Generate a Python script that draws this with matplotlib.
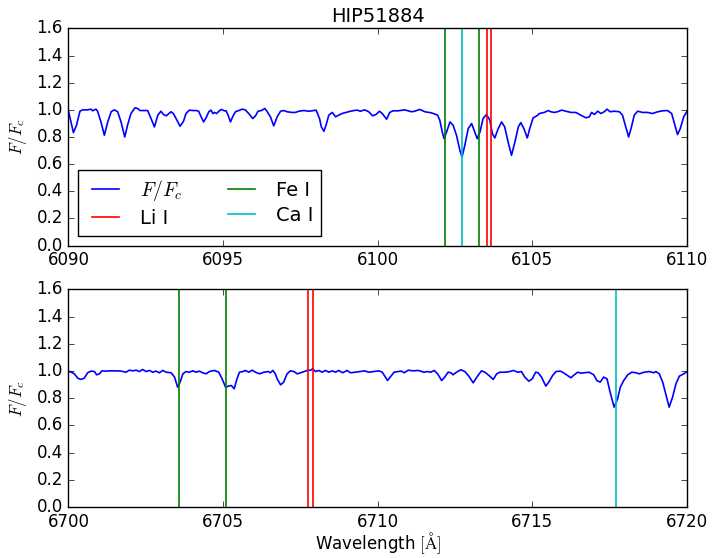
import numpy as np
import matplotlib
matplotlib.use('Agg')
import matplotlib.pyplot as plt

plt.style.use('classic')

# spectrum around 6100 A
wave_top = [6090.00, 6090.03, 6090.16, 6090.26, 6090.37, 6090.46, 6090.62, 6090.73, 6090.78, 6090.89,
            6090.94, 6091.05, 6091.16, 6091.27, 6091.38, 6091.48, 6091.59, 6091.70, 6091.82, 6091.91,
            6092.02, 6092.15, 6092.24, 6092.31, 6092.45, 6092.56, 6092.67, 6092.78, 6092.89, 6092.99,
            6093.07, 6093.16, 6093.24, 6093.32, 6093.39, 6093.48, 6093.61, 6093.72, 6093.80, 6093.91,
            6094.02, 6094.13, 6094.21, 6094.29, 6094.37, 6094.45, 6094.54, 6094.61, 6094.67, 6094.72,
            6094.79, 6094.88, 6094.94, 6095.04, 6095.10, 6095.16, 6095.24, 6095.31, 6095.40, 6095.51,
            6095.62, 6095.72, 6095.83, 6095.96, 6096.05, 6096.13, 6096.24, 6096.35, 6096.42, 6096.53,
            6096.64, 6096.75, 6096.86, 6096.96, 6097.07, 6097.23, 6097.34, 6097.45, 6097.61, 6097.77,
            6097.88, 6098.01, 6098.12, 6098.18, 6098.26, 6098.33, 6098.42, 6098.53, 6098.64, 6098.74,
            6098.85, 6098.98, 6099.12, 6099.23, 6099.34, 6099.44, 6099.58, 6099.71, 6099.84, 6099.95,
            6100.06, 6100.15, 6100.29, 6100.39, 6100.50, 6100.66, 6100.88, 6101.09, 6101.20, 6101.36,
            6101.53, 6101.74, 6101.94, 6102.01, 6102.09, 6102.15, 6102.23, 6102.34, 6102.44, 6102.55,
            6102.66, 6102.73, 6102.82, 6102.93, 6103.04, 6103.14, 6103.22, 6103.31, 6103.41, 6103.52,
            6103.63, 6103.71, 6103.79, 6103.90, 6104.01, 6104.11, 6104.22, 6104.33, 6104.44, 6104.55,
            6104.63, 6104.73, 6104.84, 6104.92, 6105.03, 6105.15, 6105.23, 6105.39, 6105.52, 6105.60,
            6105.71, 6105.82, 6105.95, 6106.09, 6106.25, 6106.41, 6106.57, 6106.74, 6106.85, 6106.92,
            6107.01, 6107.12, 6107.22, 6107.33, 6107.42, 6107.52, 6107.65, 6107.82, 6107.92, 6108.01,
            6108.12, 6108.21, 6108.30, 6108.41, 6108.57, 6108.73, 6108.89, 6109.06, 6109.22, 6109.38,
            6109.51, 6109.60, 6109.70, 6109.79, 6109.90, 6110.01]
flux_top = [0.990, 0.961, 0.832, 0.887, 0.990, 1.000, 1.000, 1.005, 0.993, 1.005,
            0.990, 0.911, 0.813, 0.911, 0.986, 1.000, 0.986, 0.911, 0.800, 0.887,
            0.973, 1.015, 1.010, 0.995, 0.995, 0.995, 0.936, 0.874, 0.961, 0.990,
            0.966, 0.956, 0.971, 0.986, 0.973, 0.936, 0.879, 0.916, 0.973, 0.998,
            0.995, 0.995, 0.990, 0.949, 0.911, 0.941, 0.986, 0.998, 0.973, 0.981,
            0.973, 0.993, 1.003, 0.993, 0.993, 0.961, 0.911, 0.949, 0.986, 0.995,
            1.005, 1.000, 0.973, 0.936, 0.956, 0.990, 0.995, 1.010, 0.990, 0.949,
            0.882, 0.949, 0.990, 0.995, 0.986, 0.981, 0.981, 0.990, 0.995, 0.990,
            0.993, 0.998, 0.936, 0.874, 0.842, 0.887, 0.961, 0.981, 0.949, 0.961,
            0.973, 0.981, 0.990, 0.995, 0.998, 0.990, 1.000, 0.986, 0.956, 0.966,
            0.990, 0.973, 0.931, 0.981, 0.993, 0.993, 1.000, 0.986, 0.990, 1.003,
            0.986, 0.978, 0.961, 0.924, 0.837, 0.788, 0.837, 0.911, 0.887, 0.813,
            0.702, 0.652, 0.739, 0.862, 0.899, 0.837, 0.788, 0.837, 0.936, 0.966,
            0.924, 0.825, 0.793, 0.862, 0.911, 0.874, 0.763, 0.665, 0.763, 0.874,
            0.906, 0.862, 0.793, 0.862, 0.941, 0.956, 0.973, 0.981, 0.995, 0.986,
            0.981, 0.986, 0.998, 0.990, 0.981, 0.981, 0.961, 0.941, 0.949, 0.981,
            0.966, 0.990, 0.973, 0.986, 1.005, 0.986, 0.990, 0.986, 0.961, 0.887,
            0.800, 0.874, 0.961, 0.990, 0.981, 0.981, 0.973, 0.986, 0.993, 0.995,
            0.973, 0.899, 0.818, 0.862, 0.949, 0.990]

# spectrum around 6708 A
wave_bot = [6700.00, 6700.05, 6700.19, 6700.30, 6700.40, 6700.51, 6700.62, 6700.73, 6700.84, 6700.91,
            6701.00, 6701.08, 6701.21, 6701.38, 6701.54, 6701.70, 6701.86, 6701.97, 6702.08, 6702.19,
            6702.29, 6702.40, 6702.51, 6702.62, 6702.72, 6702.83, 6702.94, 6703.05, 6703.16, 6703.32,
            6703.43, 6703.53, 6703.61, 6703.70, 6703.80, 6703.91, 6704.02, 6704.13, 6704.23, 6704.34,
            6704.45, 6704.56, 6704.72, 6704.86, 6704.97, 6705.08, 6705.18, 6705.27, 6705.36, 6705.45,
            6705.53, 6705.64, 6705.72, 6705.83, 6705.94, 6706.05, 6706.18, 6706.32, 6706.46, 6706.53,
            6706.61, 6706.69, 6706.75, 6706.86, 6706.96, 6707.07, 6707.18, 6707.29, 6707.40, 6707.56,
            6707.72, 6707.83, 6707.90, 6707.99, 6708.10, 6708.20, 6708.31, 6708.42, 6708.53, 6708.64,
            6708.74, 6708.87, 6709.01, 6709.12, 6709.28, 6709.44, 6709.58, 6709.71, 6709.88, 6710.04,
            6710.15, 6710.23, 6710.32, 6710.43, 6710.53, 6710.66, 6710.77, 6710.86, 6710.99, 6711.15,
            6711.31, 6711.42, 6711.50, 6711.61, 6711.72, 6711.83, 6711.94, 6712.07, 6712.17, 6712.28,
            6712.37, 6712.44, 6712.55, 6712.69, 6712.82, 6712.95, 6713.09, 6713.23, 6713.36, 6713.47,
            6713.60, 6713.74, 6713.85, 6713.95, 6714.12, 6714.28, 6714.39, 6714.53, 6714.65, 6714.76,
            6714.89, 6715.00, 6715.11, 6715.19, 6715.30, 6715.44, 6715.55, 6715.66, 6715.77, 6715.91,
            6716.01, 6716.14, 6716.25, 6716.36, 6716.47, 6716.58, 6716.68, 6716.84, 6716.99, 6717.09,
            6717.20, 6717.31, 6717.42, 6717.52, 6717.65, 6717.76, 6717.85, 6717.96, 6718.09, 6718.22,
            6718.36, 6718.46, 6718.62, 6718.79, 6718.93, 6719.00, 6719.11, 6719.22, 6719.33, 6719.43,
            6719.54, 6719.65, 6719.76, 6719.90, 6720.01]
flux_bot = [0.991, 0.996, 0.979, 0.947, 0.938, 0.947, 0.987, 0.999, 0.996, 0.972,
            0.979, 1.001, 0.999, 1.001, 1.001, 0.999, 0.991, 1.006, 1.001, 1.006,
            0.996, 1.011, 0.996, 1.004, 0.991, 0.999, 0.987, 1.004, 0.991, 0.987,
            0.955, 0.881, 0.918, 0.979, 0.996, 0.991, 1.001, 0.991, 0.999, 0.987,
            0.979, 0.996, 1.004, 0.991, 0.942, 0.881, 0.889, 0.893, 0.869, 0.942,
            0.991, 0.996, 1.004, 0.991, 1.006, 0.991, 0.979, 0.991, 0.996, 0.987,
            1.004, 0.979, 0.942, 0.898, 0.918, 0.979, 1.001, 0.996, 0.979, 0.991,
            1.004, 1.006, 1.016, 0.996, 1.004, 0.991, 1.004, 0.991, 1.001, 0.991,
            1.004, 0.987, 1.004, 0.987, 0.991, 0.996, 1.001, 0.991, 0.996, 1.001,
            0.991, 0.962, 0.930, 0.962, 0.991, 0.996, 0.999, 0.987, 1.006, 1.001,
            1.004, 0.996, 0.991, 0.996, 0.991, 1.004, 0.979, 0.930, 0.955, 0.991,
            0.987, 0.972, 0.991, 1.009, 0.996, 0.962, 0.913, 0.962, 1.001, 0.991,
            0.967, 0.938, 0.979, 0.991, 0.991, 0.996, 1.004, 0.991, 0.996, 0.955,
            0.925, 0.942, 0.991, 0.987, 0.955, 0.889, 0.923, 0.967, 0.996, 0.999,
            0.987, 0.967, 0.950, 0.972, 0.991, 0.984, 0.987, 0.991, 0.972, 0.930,
            0.918, 0.955, 0.942, 0.844, 0.734, 0.795, 0.881, 0.930, 0.972, 0.991,
            0.987, 0.979, 0.991, 0.996, 0.987, 0.996, 0.979, 0.918, 0.820, 0.734,
            0.808, 0.906, 0.962, 0.979, 0.996]

# line list
li_top = [6103.54, 6103.66]
fe_top = [6102.18, 6103.28]
ca_top = [6102.73]
li_bot = [6707.76, 6707.91]
fe_bot = [6703.58, 6705.11]
ca_bot = [6717.70]


def plot_panel(ax, wave, flux, li, fe, ca, xlim):
    h_flux, = ax.plot(wave, flux, 'b-', lw=1.2, label=r'$F/F_c$')
    for w in li:
        h_li = ax.axvline(w, color='r', lw=1.2, label='Li I')
    for w in fe:
        h_fe = ax.axvline(w, color='g', lw=1.2, label='Fe I')
    for w in ca:
        h_ca = ax.axvline(w, color='c', lw=1.2, label='Ca I')
    ax.set_xlim(xlim)
    ax.set_ylim(0, 1.6)
    ax.set_xticks(np.arange(xlim[0], xlim[1] + 1, 5))
    ax.set_yticks(np.arange(0, 1.61, 0.2))
    ax.ticklabel_format(axis='x', useOffset=False)
    ax.set_ylabel(r'$F/F_c$')
    return [h_flux, h_li, h_fe, h_ca]


fig = plt.figure(figsize=(7.12, 5.58), dpi=100, facecolor='white')
ax1 = fig.add_axes([0.0962, 0.5600, 0.8684, 0.3890])
ax2 = fig.add_axes([0.0962, 0.0914, 0.8684, 0.3900])

handles = plot_panel(ax1, wave_top, flux_top, li_top, fe_top, ca_top, (6090, 6110))
plot_panel(ax2, wave_bot, flux_bot, li_bot, fe_bot, ca_bot, (6700, 6720))

ax1.set_title('HIP51884', fontsize=14)
ax1.legend(handles, [h.get_label() for h in handles], loc='lower left', ncol=2,
           fontsize=14, labelspacing=0.3)
ax2.set_xlabel(r'Wavelength $[\mathrm{\AA}]$', labelpad=0)

fig.savefig('out.png', dpi=100, facecolor='white')
